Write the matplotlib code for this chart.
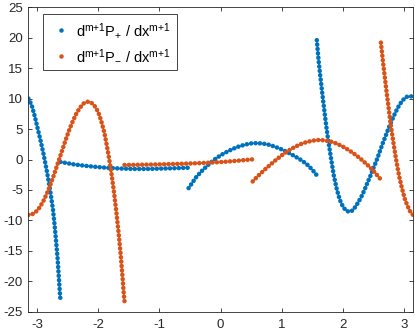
import matplotlib
matplotlib.use("Agg")
matplotlib.rcParams['font.family'] = ['Liberation Sans', 'DejaVu Sans']
matplotlib.rcParams['axes.unicode_minus'] = False

import matplotlib.pyplot as plt
from matplotlib.lines import Line2D

# piecewise pieces (x, y knots per piece)
blue_x1 = [-3.1416, -3.09, -3.04, -2.99, -2.94, -2.89, -2.84, -2.79, -2.74, -2.715, -2.69, -2.665, -2.64, -2.625, -2.618]
blue_y1 = [10.0, 9.0, 7.2, 5.1, 3.0, 0.7, -1.9, -4.8, -8.2, -10.6, -13.3, -16.2, -20.0, -22.2, -23.0]

blue_x2 = [-2.618, -2.4, -2.2, -2.0, -1.8, -1.6, -1.4, -1.2, -1.0, -0.8, -0.524]
blue_y2 = [-0.4, -0.8, -1.05, -1.25, -1.4, -1.5, -1.55, -1.55, -1.5, -1.45, -1.35]

blue_x3 = [-0.524, -0.4, -0.3, -0.2, -0.1, 0.0, 0.1, 0.2, 0.3, 0.4, 0.5, 0.6, 0.7,
           0.8, 0.9, 1.0, 1.1, 1.2, 1.3, 1.4, 1.5, 1.571]
blue_y3 = [-4.7, -2.9, -1.8, -0.85, 0.0, 0.7, 1.25, 1.75, 2.15, 2.45, 2.65, 2.7, 2.6,
           2.4, 2.05, 1.65, 1.15, 0.6, 0.0, -0.7, -1.7, -2.6]

blue_x4 = [1.571, 1.60, 1.63, 1.66, 1.69, 1.72, 1.75, 1.80, 1.85, 1.90, 1.95, 2.00, 2.05,
           2.10, 2.15, 2.20, 2.25, 2.30, 2.35, 2.40, 2.45, 2.50, 2.55, 2.60, 2.65, 2.70,
           2.75, 2.80, 2.85, 2.90, 2.95, 3.00, 3.05, 3.10, 3.1416]
blue_y4 = [19.6, 16.3, 13.5, 10.9, 8.4, 5.9, 3.7, 0.4, -2.7, -5.0, -6.7, -7.8, -8.4,
           -8.6, -8.4, -7.8, -7.0, -6.1, -5.0, -3.8, -2.6, -1.3, -0.1, 1.3, 2.7, 4.0,
           5.3, 6.5, 7.6, 8.6, 9.4, 10.0, 10.35, 10.4, 10.3]

orange_x1 = [-3.1416, -3.08, -3.02, -2.96, -2.90, -2.84, -2.78, -2.72, -2.66, -2.60, -2.54,
             -2.48, -2.42, -2.36, -2.30, -2.24, -2.18, -2.12, -2.06, -2.00, -1.95, -1.90,
             -1.86, -1.82, -1.78, -1.74, -1.70, -1.66, -1.63, -1.60, -1.585, -1.571]
orange_y1 = [-9.1, -9.0, -8.6, -7.9, -6.9, -5.6, -4.1, -2.4, -0.6, 1.2, 3.0,
             4.7, 6.2, 7.5, 8.5, 9.2, 9.5, 9.4, 8.8, 7.8, 6.3, 4.4,
             2.3, 0.0, -2.6, -5.6, -9.0, -12.8, -16.0, -19.8, -21.8, -23.3]

orange_x2 = [-1.571, -1.3, -1.0, -0.7, -0.4, -0.1, 0.1, 0.3, 0.524]
orange_y2 = [-0.9, -0.86, -0.8, -0.72, -0.62, -0.48, -0.35, -0.18, 0.03]

orange_x3 = [0.524, 0.6, 0.7, 0.8, 0.9, 1.0, 1.1, 1.2, 1.3, 1.4, 1.5, 1.6, 1.7,
             1.8, 1.9, 2.0, 2.1, 2.2, 2.3, 2.4, 2.5, 2.618]
orange_y3 = [-3.6, -2.8, -1.85, -0.95, -0.1, 0.7, 1.4, 2.0, 2.5, 2.85, 3.1, 3.2, 3.15,
             2.95, 2.6, 2.1, 1.5, 0.8, 0.0, -0.9, -1.9, -3.3]

orange_x4 = [2.618, 2.64, 2.66, 2.68, 2.70, 2.72, 2.74, 2.76, 2.78, 2.80, 2.83, 2.86,
             2.89, 2.92, 2.95, 2.98, 3.01, 3.04, 3.07, 3.10, 3.1416]
orange_y4 = [19.2, 17.2, 15.4, 13.7, 12.0, 10.4, 8.9, 7.2, 5.7, 4.3, 2.3, 0.4,
             -1.3, -2.9, -4.2, -5.4, -6.5, -7.3, -8.0, -8.6, -9.1]

blue_pieces = [(blue_x1, blue_y1), (blue_x2, blue_y2), (blue_x3, blue_y3), (blue_x4, blue_y4)]
orange_pieces = [(orange_x1, orange_y1), (orange_x2, orange_y2), (orange_x3, orange_y3), (orange_x4, orange_y4)]

labels = [r'd$\mathregular{^{m{+}1}}$P$\mathregular{_{+}}$ / dx$\mathregular{^{m{+}1}}$',
          r'd$\mathregular{^{m{+}1}}$P$\mathregular{_{-}}$ / dx$\mathregular{^{m{+}1}}$']
colors = ["#0072BD", "#D95319"]

fig = plt.figure(figsize=(4.15, 3.33), dpi=100)
ax = fig.add_axes([0.0684, 0.064, 0.9266, 0.914])

dot_style = dict(lw=3.3, ls=(0, (0.01, 0.95)), dash_capstyle='round', solid_capstyle='round')
for xs, ys in blue_pieces:
    ax.plot(xs, ys, color=colors[0], **dot_style)
for xs, ys in orange_pieces:
    ax.plot(xs, ys, color=colors[1], **dot_style)

ax.set_xlim(-3.1416, 3.1416)
ax.set_ylim(-25, 25)
ax.set_xticks(range(-3, 4))
ax.set_yticks(range(-25, 26, 5))

dark = "#262626"
ax.tick_params(direction='in', top=True, right=True, length=3, width=0.6,
               labelsize=9.5, colors=dark, labelcolor=dark)
ax.tick_params(axis='x', pad=5)
ax.tick_params(axis='y', pad=4)
for s in ax.spines.values():
    s.set_color(dark)
    s.set_linewidth(0.6)

handles = [Line2D([], [], ls='none', marker='o', ms=3.2, mec='none', mfc=c) for c in colors]
leg = ax.legend(handles, labels, loc='upper left', bbox_to_anchor=(0.037, 0.978),
                borderaxespad=0, fontsize=10.5, fancybox=False, framealpha=1,
                edgecolor=dark, handlelength=1.56, handletextpad=0.27, borderpad=0.45,
                labelspacing=0.55)
leg.get_frame().set_linewidth(0.6)

fig.savefig("out.png", dpi=100)
